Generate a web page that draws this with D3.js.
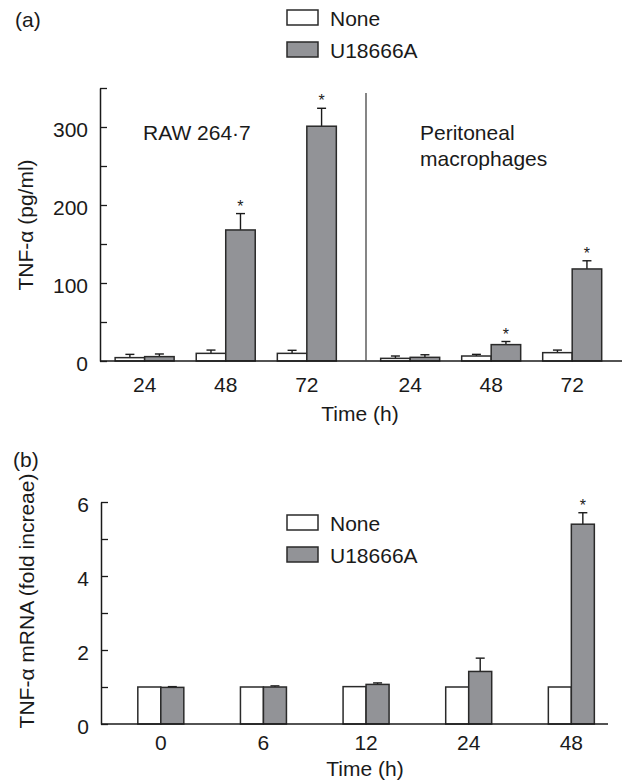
<!DOCTYPE html>
<html>
<head>
<meta charset="utf-8">
<script src="https://cdn.jsdelivr.net/npm/d3@7"></script>
<style>
  body { margin: 0; background: #fff; }
  svg text { font-family: "Liberation Sans", Arial, sans-serif; fill: #1a1a1a; }
</style>
</head>
<body>
<svg id="chart" width="622" height="781"></svg>
<script>
// ---- data ----
// panel (a): TNF-alpha secretion (pg/ml)
const timesA = ["24", "48", "72"];
const rawNone = [4.3, 9.8, 9.8];
const rawNoneErr = [4.2, 4.2, 3.9];
const rawU = [5.6, 168, 301];
const rawUErr = [3.4, 21, 23];
const rawStars = [false, true, true];
const peritNone = [3.4, 6.4, 10.7];
const peritNoneErr = [3.0, 2.1, 3.3];
const peritU = [4.7, 21, 118];
const peritUErr = [3.3, 4, 10.5];
const peritStars = [false, true, true];
const ticksA = [0, 50, 100, 150, 200, 250, 300, 350];

// panel (b): TNF-alpha mRNA fold increase
const timesB = ["0", "6", "12", "24", "48"];
const mrnaNone = [1.0, 1.0, 1.01, 1.0, 1.0];
const mrnaNoneErr = [0, 0, 0, 0, 0];
const mrnaU = [0.99, 1.0, 1.07, 1.42, 5.4];
const mrnaUErr = [0.02, 0.03, 0.04, 0.36, 0.31];
const mrnaStars = [false, false, false, false, true];
const ticksB = [0, 1, 2, 3, 4, 5, 6];

const seriesNames = ["None", "U18666A"];
const fills = { "None": "#ffffff", "U18666A": "#929397" };

const svg = d3.select("#chart");
const ink = "#1a1a1a";
const fs = 21;

// simple helper: draw pairs of bars with upward error bars and stars
function drawBars(g, x, y, bw, none, noneErr, u, uErr, stars, cats) {
  const rows = cats.map((c, i) => ({ c, i }));
  const grp = g.append("g");
  [["None", none, noneErr, -1], ["U18666A", u, uErr, 0]].forEach(([name, vals, errs, off]) => {
    grp.selectAll(null).data(rows).enter().append("line")
      .filter(d => errs[d.i] > 0)
      .attr("x1", d => x(d.c) + off * bw + bw / 2)
      .attr("x2", d => x(d.c) + off * bw + bw / 2)
      .attr("y1", d => y(vals[d.i]))
      .attr("y2", d => y(vals[d.i] + errs[d.i]))
      .attr("stroke", ink).attr("stroke-width", 1.4);
    grp.selectAll(null).data(rows).enter().append("line")
      .filter(d => errs[d.i] > 0)
      .attr("x1", d => x(d.c) + off * bw + bw / 2 - 4.5)
      .attr("x2", d => x(d.c) + off * bw + bw / 2 + 4.5)
      .attr("y1", d => y(vals[d.i] + errs[d.i]))
      .attr("y2", d => y(vals[d.i] + errs[d.i]))
      .attr("stroke", ink).attr("stroke-width", 1.4);
    grp.selectAll(null).data(rows).enter().append("rect")
      .attr("x", d => x(d.c) + off * bw)
      .attr("y", d => y(vals[d.i]))
      .attr("width", bw)
      .attr("height", d => y(0) - y(vals[d.i]))
      .attr("fill", fills[name])
      .attr("stroke", "#2a2a2a").attr("stroke-width", 1.5);
  });
  grp.selectAll(null).data(rows.filter(d => stars[d.i])).enter().append("text")
    .attr("x", d => x(d.c) + bw / 2)
    .attr("y", d => y(u[d.i] + uErr[d.i]) - 2)
    .attr("text-anchor", "middle")
    .style("font-size", "16px")
    .text("*");
}

function legend(x0, y0) {
  const lg = svg.append("g").attr("transform", `translate(${x0},${y0})`);
  const item = lg.selectAll("g").data(seriesNames).enter().append("g")
    .attr("transform", (d, i) => `translate(0,${i * 32})`);
  item.append("rect")
    .attr("x", 0).attr("y", -16).attr("width", 31).attr("height", 15)
    .attr("fill", d => fills[d]).attr("stroke", "#2a2a2a").attr("stroke-width", 1.5);
  item.append("text")
    .attr("x", 43).attr("y", 0)
    .style("font-size", fs + "px")
    .text(d => d);
}

function yAxis(g, y, ticks, labelled) {
  g.call(d3.axisLeft(y).tickValues(ticks).tickSize(-7).tickSizeOuter(0).tickPadding(12)
      .tickFormat(d => labelled.includes(d) ? d : ""));
  g.select(".domain").attr("stroke", ink).attr("stroke-width", 1.5);
  g.selectAll(".tick line").attr("stroke", ink).attr("stroke-width", 1.3);
  g.selectAll(".tick text").style("font-size", fs + "px").attr("fill", ink)
    .attr("font-family", null).attr("dy", "0.45em");
}

function xLabels(g, x, cats, yPos) {
  g.selectAll(null).data(cats).enter().append("text")
    .attr("x", d => x(d)).attr("y", yPos)
    .attr("text-anchor", "middle").style("font-size", fs + "px")
    .text(d => d);
}

// ================= panel (a) =================
const ya = d3.scaleLinear().domain([0, 350]).range([361, 88]);
const axA0 = 100, divA = 366, axA1 = 622;
const xRaw = d3.scalePoint().domain(timesA).range([axA0, divA]).padding(0.64).align(0.43);
const xPer = d3.scalePoint().domain(timesA).range([divA, axA1]).padding(0.58).align(0.47);
const bwA = 29.5;

svg.append("text").attr("x", 15).attr("y", 27).style("font-size", fs + "px").text("(a)");
legend(287, 26);

const gA = svg.append("g");
drawBars(gA, xRaw, ya, bwA, rawNone, rawNoneErr, rawU, rawUErr, rawStars, timesA);
drawBars(gA, xPer, ya, bwA, peritNone, peritNoneErr, peritU, peritUErr, peritStars, timesA);

gA.append("line").attr("x1", axA0).attr("x2", axA1).attr("y1", ya(0)).attr("y2", ya(0))
  .attr("stroke", ink).attr("stroke-width", 1.5);
gA.append("line").attr("x1", divA).attr("x2", divA).attr("y1", 93).attr("y2", ya(0))
  .attr("stroke", "#444").attr("stroke-width", 1.3);
yAxis(svg.append("g").attr("transform", `translate(${axA0},0)`), ya, ticksA, [0, 100, 200, 300]);

xLabels(gA, xRaw, timesA, 392);
xLabels(gA, xPer, timesA, 392);

svg.append("text").attr("x", 143).attr("y", 140).style("font-size", fs + "px").text("RAW 264·7");
svg.append("text").attr("x", 420).attr("y", 140).style("font-size", fs + "px").text("Peritoneal");
svg.append("text").attr("x", 420).attr("y", 166).style("font-size", fs + "px").text("macrophages");

svg.append("text").attr("x", 360).attr("y", 421).attr("text-anchor", "middle")
  .style("font-size", fs + "px").text("Time (h)");
svg.append("text").attr("transform", "translate(33,225) rotate(-90)")
  .attr("text-anchor", "middle").style("font-size", fs + "px").text("TNF-α (pg/ml)");

// ================= panel (b) =================
const yb = d3.scaleLinear().domain([0, 6]).range([724, 502]);
const axB0 = 101, axB1 = 608;
const xb = d3.scalePoint().domain(timesB).range([axB0, axB1]).padding(0.47).align(0.62);
const bwB = 23;

svg.append("text").attr("x", 13).attr("y", 467).style("font-size", fs + "px").text("(b)");
legend(287, 531);

const gB = svg.append("g");
drawBars(gB, xb, yb, bwB, mrnaNone, mrnaNoneErr, mrnaU, mrnaUErr, mrnaStars, timesB);
gB.append("line").attr("x1", axB0).attr("x2", axB1).attr("y1", yb(0)).attr("y2", yb(0))
  .attr("stroke", ink).attr("stroke-width", 1.5);
yAxis(svg.append("g").attr("transform", `translate(${axB0},0)`), yb, ticksB, [0, 2, 4, 6]);
xLabels(gB, xb, timesB, 750);

svg.append("text").attr("x", 365).attr("y", 776).attr("text-anchor", "middle")
  .style("font-size", fs + "px").text("Time (h)");
svg.append("text").attr("transform", "translate(34,601) rotate(-90)")
  .attr("text-anchor", "middle").style("font-size", fs + "px").text("TNF-α mRNA (fold increae)");
</script>
</body>
</html>
